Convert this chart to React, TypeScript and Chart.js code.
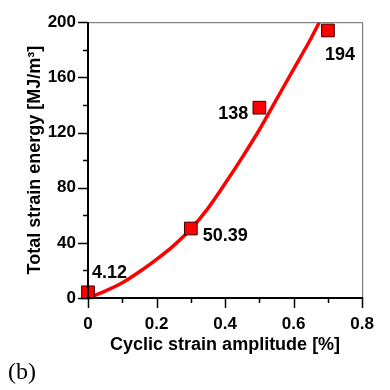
import { useEffect, useRef } from 'react';
import { Chart, registerables } from 'chart.js';

Chart.register(...registerables);

// Measured points
const strainAmplitude = [0, 0.3, 0.5, 0.7];
const strainEnergy = [4.12, 50.39, 138, 194];
const pointLabels = ['4.12', '50.39', '138', '194'];

// Fitted curve
const fitX = [0, 0.05, 0.1, 0.15, 0.2, 0.25, 0.3, 0.35, 0.4, 0.45, 0.5, 0.55, 0.6, 0.65, 0.675];
const fitY = [0, 5, 11, 19, 28, 38, 50, 65, 83, 102, 122, 144, 166, 188, 200];

// Axis ticks
const xMajorTicks = [0, 0.2, 0.4, 0.6, 0.8];
const xMinorTicks = [0.1, 0.3, 0.5, 0.7];
const yMajorTicks = [0, 40, 80, 120, 160, 200];
const yMinorTicks = [20, 60, 100, 140, 180];

const xTitle = 'Cyclic strain amplitude [%]';
const yTitle = 'Total strain energy [MJ/m³]';
const panelLabel = '(b)';

// label placement relative to point pixel: [dx, dyBaseline, align]
const labelPlacement: [number, number, CanvasTextAlign][] = [
  [4, -14, 'left'],
  [12, 12, 'left'],
  [-11, 11, 'right'],
  [-3, 30, 'left'],
];

const FONT = "'Liberation Sans', Arial, sans-serif";

const framePlugin = {
  id: 'frameAndLabels',
  afterDatasetsDraw(chart: any) {
    const { ctx, chartArea, scales } = chart;
    const { left, right, top, bottom } = chartArea;
    const xs = scales.x;
    const ys = scales.y;
    ctx.save();
    // top & right frame
    ctx.strokeStyle = '#666';
    ctx.lineWidth = 1;
    ctx.beginPath();
    ctx.moveTo(left, top + 0.5);
    ctx.lineTo(right + 0.5, top + 0.5);
    ctx.lineTo(right + 0.5, bottom);
    ctx.stroke();
    // axes
    ctx.strokeStyle = '#000';
    ctx.lineWidth = 2;
    ctx.beginPath();
    ctx.moveTo(left, top);
    ctx.lineTo(left, bottom);
    ctx.lineTo(right + 1, bottom);
    ctx.stroke();
    // ticks
    ctx.lineWidth = 1.5;
    ctx.beginPath();
    yMajorTicks.forEach((v) => {
      const y = Math.round(ys.getPixelForValue(v)) + 0.5;
      ctx.moveTo(left - 10, y);
      ctx.lineTo(left, y);
    });
    yMinorTicks.forEach((v) => {
      const y = Math.round(ys.getPixelForValue(v)) + 0.5;
      ctx.moveTo(left - 5, y);
      ctx.lineTo(left, y);
    });
    xMajorTicks.forEach((v) => {
      const x = Math.round(xs.getPixelForValue(v)) + 0.5;
      ctx.moveTo(x, bottom);
      ctx.lineTo(x, bottom + 10);
    });
    xMinorTicks.forEach((v) => {
      const x = Math.round(xs.getPixelForValue(v)) + 0.5;
      ctx.moveTo(x, bottom);
      ctx.lineTo(x, bottom + 5);
    });
    ctx.stroke();
    // data labels
    ctx.fillStyle = '#000';
    ctx.font = `bold 18px ${FONT}`;
    ctx.textBaseline = 'alphabetic';
    pointLabels.forEach((t, i) => {
      const px = xs.getPixelForValue(strainAmplitude[i]);
      const py = ys.getPixelForValue(strainEnergy[i]);
      const [dx, dy, align] = labelPlacement[i];
      ctx.textAlign = align;
      ctx.fillText(t, px + dx, py + dy);
    });
    ctx.restore();
  },
};

export default function App() {
  const canvasRef = useRef<HTMLCanvasElement | null>(null);

  useEffect(() => {
    if (!canvasRef.current) return;
    const chart = new Chart(canvasRef.current, {
      type: 'scatter',
      data: {
        datasets: [
          {
            label: 'data',
            data: strainAmplitude.map((x, i) => ({ x, y: strainEnergy[i] })),
            pointStyle: 'rect',
            pointRadius: 9,
            backgroundColor: '#ff0000',
            borderColor: '#3a0000',
            borderWidth: 1,
            showLine: false,
            clip: false,
            order: 0,
          },
          {
            label: 'fit',
            data: fitX.map((x, i) => ({ x, y: fitY[i] })),
            showLine: true,
            borderColor: '#ff0000',
            borderWidth: 3.5,
            pointRadius: 0,
            tension: 0.4,
            cubicInterpolationMode: 'monotone',
            order: 1,
          } as any,
        ],
      },
      options: {
        animation: false,
        responsive: false,
        layout: { padding: { top: 16, right: 16, left: 0, bottom: 0 } },
        plugins: { legend: { display: false }, tooltip: { enabled: false } },
        scales: {
          x: {
            type: 'linear',
            min: 0,
            max: 0.8,
            grid: { display: false, drawTicks: false },
            border: { display: false },
            ticks: {
              stepSize: 0.2,
              padding: 16,
              color: '#000',
              font: { family: FONT, size: 17, weight: 'bold' },
              callback: (v: any) => String(Number(Number(v).toFixed(1))),
            },
            title: {
              display: true,
              text: xTitle,
              color: '#000',
              font: { family: FONT, size: 18, weight: 'bold' },
              padding: { top: 0, bottom: 34 },
            },
            afterFit: (s: any) => {
              s.height = 92;
            },
          },
          y: {
            type: 'linear',
            min: 0,
            max: 200,
            grid: { display: false, drawTicks: false },
            border: { display: false },
            ticks: {
              stepSize: 40,
              padding: 12,
              color: '#000',
              font: { family: FONT, size: 17, weight: 'bold' },
            },
            title: {
              display: true,
              text: yTitle,
              color: '#000',
              font: { family: FONT, size: 18, weight: 'bold' },
              padding: { top: 24, bottom: 0 },
            },
            afterFit: (s: any) => {
              s.width = 88;
            },
          },
        },
      },
      plugins: [framePlugin],
    });
    return () => chart.destroy();
  }, []);

  return (
    <div style={{ position: 'absolute', left: 0, top: 0, width: 390, height: 390 }}>
      <canvas ref={canvasRef} width={390} height={390} style={{ display: 'block', width: 390, height: 390 }} />
      <div
        style={{
          position: 'absolute',
          left: 8,
          top: 357,
          fontFamily: "'Liberation Serif', 'Times New Roman', serif",
          fontSize: 24,
          lineHeight: '28px',
          color: '#000',
        }}
      >
        {panelLabel}
      </div>
    </div>
  );
}
